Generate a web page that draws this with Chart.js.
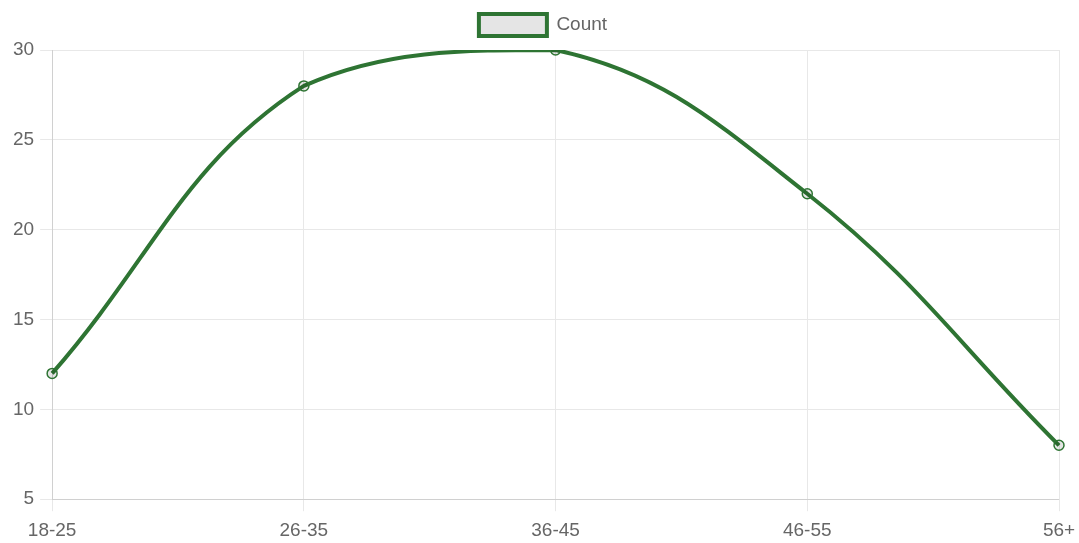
<!DOCTYPE html>
<html>
<head>
<meta charset="utf-8">
<script src="https://cdn.jsdelivr.net/npm/chart.js@4"></script>
<style>
  html, body { margin: 0; padding: 0; background: #fff; }
  #wrap { width: 1079px; height: 543px; }
</style>
</head>
<body>
<div id="wrap"><canvas id="c"></canvas></div>
<script>
// Age groups and respondent counts
const ageGroups = ['18-25', '26-35', '36-45', '46-55', '56+'];
const counts = [12, 28, 30, 22, 8];
const seriesName = 'Count';

const lineColor = '#2e7433';
const fillColor = 'rgba(0,0,0,0.1)';
const fontFamily = 'Liberation Sans, Arial, sans-serif';
const fontSize = 19;

// Nudge the legend up a few pixels after layout, leaving the plot area where it is
const liftLegend = {
  id: 'liftLegend',
  afterLayout(chart) {
    const l = chart.legend;
    if (l) { l.top -= 4; l.bottom -= 4; }
  }
};

new Chart(document.getElementById('c'), {
  type: 'line',
  data: {
    labels: ageGroups,
    datasets: [{
      label: seriesName,
      data: counts,
      borderColor: lineColor,
      backgroundColor: fillColor,
      borderWidth: 4,
      tension: 0.4,
      pointRadius: 5,
      pointBorderWidth: 1.5,
      pointBackgroundColor: fillColor,
      pointBorderColor: lineColor,
      fill: false
    }]
  },
  plugins: [liftLegend],
  options: {
    responsive: true,
    maintainAspectRatio: false,
    animation: false,
    layout: { padding: { left: 7, right: 0, top: 0, bottom: -7 } },
    plugins: {
      legend: {
        labels: {
          boxWidth: 68,
          boxHeight: 22,
          padding: 11,
          color: '#666',
          font: { family: fontFamily, size: fontSize }
        }
      },
      tooltip: { enabled: false }
    },
    scales: {
      x: {
        grid: { color: '#e8e8e8', tickLength: 12 },
        ticks: { padding: 8, color: '#666', font: { family: fontFamily, size: fontSize } },
        afterFit: (s) => { s.paddingRight = 20; }
      },
      y: {
        min: 5,
        max: 30,
        grid: { color: '#e8e8e8', tickLength: 12 },
        ticks: { stepSize: 5, padding: 6, color: '#666', font: { family: fontFamily, size: fontSize } },
        afterFit: (s) => { s.paddingTop = 50; }
      }
    }
  }
});
</script>
</body>
</html>
